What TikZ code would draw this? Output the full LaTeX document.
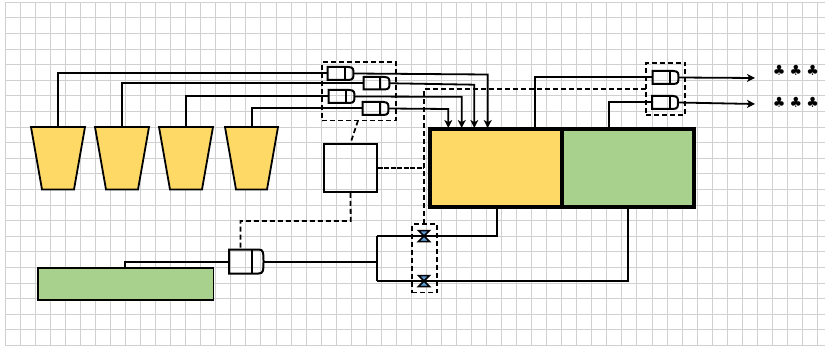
\documentclass[tikz,border=0pt]{standalone}
\usepackage{fontspec}
\newfontfamily\symfont{DejaVu Sans}
\usetikzlibrary{arrows.meta,calc}
\definecolor{gridc}{HTML}{D0D0D0}
\definecolor{tankY}{HTML}{FFD966}
\definecolor{tankG}{HTML}{A9D18E}
\definecolor{valveB}{HTML}{5B9BD5}
\tikzset{
 conn/.style={line width=2pt,black},
 thin conn/.style={line width=1.8pt,black},
 dash conn/.style={line width=1.8pt,black,dash pattern=on 5pt off 3pt},
 dense dash/.style={line width=1.8pt,black,dash pattern=on 5pt off 1.5pt},
 head/.style={-{Stealth[length=8pt,width=8pt,inset=2.2pt]}},
 gatebox/.style={rectangle,inner sep=0pt,outer sep=0pt},
 dashbox/.style={rectangle,draw,line width=1.8pt,dash pattern=on 5pt off 3pt,inner sep=0pt,outer sep=0pt},
 tank/.style={rectangle,draw,line width=3.4pt,inner sep=0pt,outer sep=0pt},
 clubs/.style={font=\symfont\bfseries\fontsize{14}{14}\selectfont,inner sep=0pt},
}
% name, left, top, right, bottom, bar x
\newcommand{\gateat}[6]{%
 \node[gatebox,minimum width={(#4-#2)*1pt},minimum height={(#5-#3)*1pt}] (#1) at ({(#2+#4)/2},{(#3+#5)/2}) {};
 \draw[conn] (#1.north west) -- (#6,#3) -- ($(#1.north east)+(-5,0)$) .. controls (#1.north east) and ($(#1.north east)+(0,3)$) .. (#1.east)
   .. controls ($(#1.south east)+(0,-3)$) and (#1.south east) .. ($(#1.south east)+(-5,0)$) -- (#6,#5) -- (#1.south west) -- cycle;
 \draw[conn] (#6,#3) -- (#6,#5);
}
% name, left, top, right, bottom
\newcommand{\hopper}[5]{%
 \coordinate (#1) at ({(#2+#3)/2},127);
 \draw[line width=1.8pt,fill=tankY,line join=miter] (#2,127) -- (#3,127) -- (#5,189.5) -- (#4,189.5) -- cycle;
}
\newcommand{\valveat}[3]{%
 \node[gatebox,minimum width=11pt,minimum height=11pt] (#1) at (#2,#3) {};
 \fill[valveB] (#1.north west) -- (#1.north east) -- (#1.south west) -- (#1.south east) -- cycle;
 \draw[line width=1.5pt] (#1.north west) -- (#1.north east) -- (#1.south west) -- (#1.south east) -- cycle;
}
\begin{document}
\begin{tikzpicture}[x=1pt,y=-1pt]
\useasboundingbox (0,0) rectangle (826,347);
\fill[white] (0,0) rectangle (826,347);
% grid
\foreach \i in {0,...,54} \draw[gridc,line width=1pt] ({5.3+15.04*\i},2.3) -- ({5.3+15.04*\i},345.5);
\foreach \j in {0,...,22} \draw[gridc,line width=1pt] (5.3,{2.3+15.6*\j}) -- (825,{2.3+15.6*\j});
% hoppers
\hopper{ha}{31}{85}{42}{74}
\hopper{hb}{95}{149}{106}{138}
\hopper{hc}{159}{213}{170}{202}
\hopper{hd}{225}{278}{236}{267}
% tanks
\node[tank,fill=tankY,minimum width=132pt,minimum height=78pt] (yt) at (496,168) {};
\node[tank,fill=tankG,minimum width=132pt,minimum height=78pt] (gt) at (628,168) {};
% feed
\node[rectangle,draw,line width=1.8pt,fill=tankG,minimum width=175.5pt,minimum height=32pt,inner sep=0pt] (feed) at (125.75,284) {};
% controller
\node[rectangle,draw,line width=1.8pt,minimum width=53pt,minimum height=48pt,inner sep=0pt] (ctrl) at (350.5,168) {};
% gates
\gateat{ga}{327.5}{67}{353.5}{80}{345}
\gateat{gb}{363.5}{77}{389.5}{89.5}{380}
\gateat{gc}{328.5}{90}{354.5}{103}{346}
\gateat{gd}{362.5}{102}{388.5}{115}{379.5}
\gateat{ge}{652.5}{71}{678.5}{84}{670}
\gateat{gf}{652}{96}{678}{109}{669.5}
\gateat{gg}{229}{249.5}{263.5}{273.5}{251.7}
% dashed boxes
\node[dashbox,minimum width=73.5pt,minimum height=58.5pt] (boxa) at (359,91.3) {};
\node[dashbox,minimum width=39pt,minimum height=52.5pt] (boxb) at (665.5,89) {};
\node[dashbox,minimum width=25pt,minimum height=68.5pt] (boxc) at (424.8,258.3) {};
% hopper to gate
\draw[conn] (ha) |- (ga.west);
\draw[conn] (hb) |- (gb.west);
\draw[conn] (hc) |- (gc.west);
\draw[conn] (hd) |- (gd.west);
% gate to yellow tank
\coordinate (ya) at (487.7,128); \coordinate (yb) at (474.3,128); \coordinate (yc) at (461.7,128); \coordinate (yd) at (448.3,128);
\draw[thin conn,head] (ga.east) -- (487.7,74.5) -- (ya);
\draw[thin conn,head] (gb.east) -- (474.3,84.7) -- (yb);
\draw[thin conn,head] (gc.east) -- (461.7,96.8) -- (yc);
\draw[thin conn,head] (gd.east) -- (448.3,109) -- (yd);
% tank to right gates
\draw[conn] (535,128) |- (ge.west);
\draw[conn] (609,128) |- (gf.west);
% outputs
\coordinate (oa) at (755,78); \coordinate (ob) at (755,104);
\draw[thin conn,head] (ge.east) -- (oa);
\draw[thin conn,head] (gf.east) -- (ob);
\node[clubs] (ca) at (796,70) {♣\hspace{4.2pt}♣\hspace{4.2pt}♣};
\node[clubs] (cb) at (796,102) {♣\hspace{4.2pt}♣\hspace{4.2pt}♣};
% dashed signals
\coordinate (sa) at (358,120.6);
\coordinate (sb) at (424,224);
\draw[dash conn] (sa) -- (ctrl.north);
\draw[dense dash] (ctrl.east) -- (424,168);
\draw[dash conn] (sb) -- (424,89) -- (646,89);
\draw[dash conn] (ctrl.south) -- (350.7,221) -- (240.5,221) -- (240.5,249.5);
% lower lines
\draw[conn] (125,268) -- (125,261.5) -- (gg.west);
\draw[conn] (gg.east) -- (377,261.5);
\draw[conn] (377,236) -- (377,281);
\draw[conn] (377,236) -- (497,236) -- (497,207);
\draw[conn] (377,281) -- (628,281) -- (628,207);
% valves
\valveat{va}{424}{236}
\valveat{vb}{424}{281}
\end{tikzpicture}
\end{document}
